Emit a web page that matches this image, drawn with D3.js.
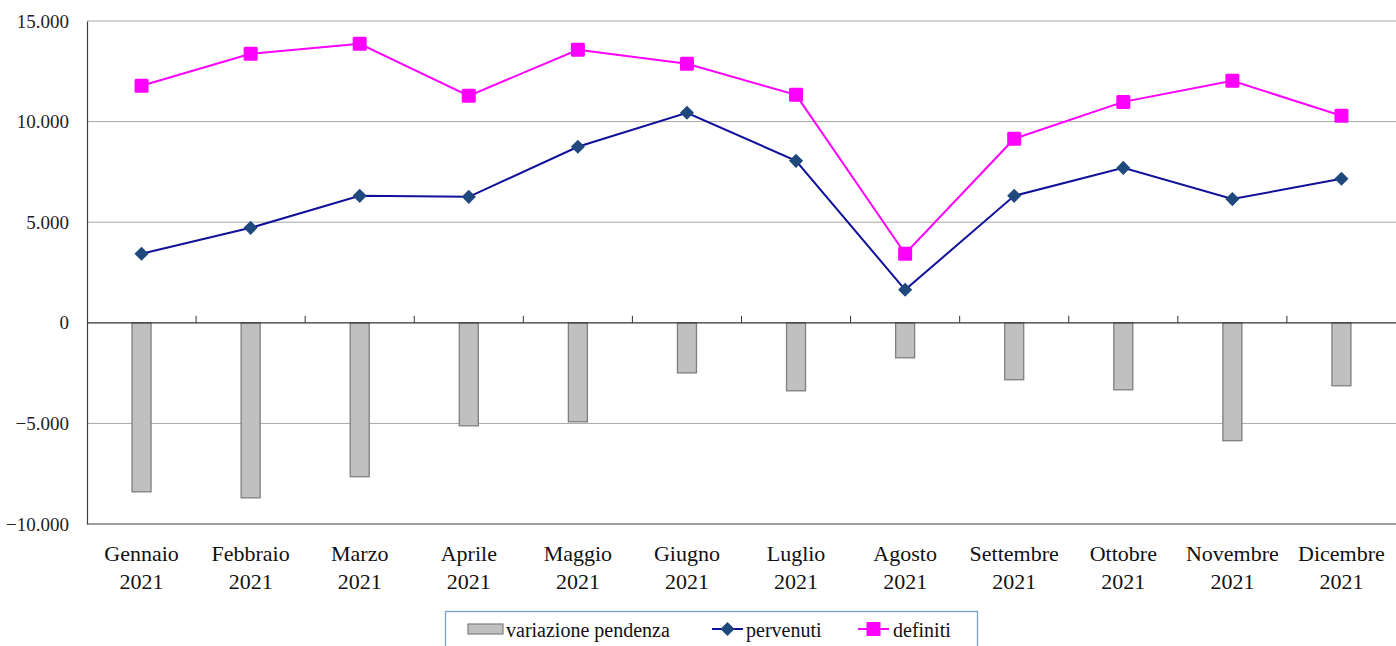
<!DOCTYPE html>
<html><head><meta charset="utf-8">
<script src="https://cdn.jsdelivr.net/npm/d3@7"></script>
<style>html,body{margin:0;padding:0;background:#fff;}svg{display:block;}
svg text{font-family:"Liberation Serif","DejaVu Serif","Noto Serif","Times New Roman",Tinos,serif !important;}</style>
</head><body>
<svg id="c" width="1396" height="646"></svg>
<script>
const months = ["Gennaio","Febbraio","Marzo","Aprile","Maggio","Giugno","Luglio","Agosto","Settembre","Ottobre","Novembre","Dicembre"];
const yearLabel = "2021";
const variazione = [-8400,-8700,-7650,-5120,-4920,-2490,-3380,-1740,-2830,-3330,-5860,-3130];
const pervenuti = [3430,4720,6310,6260,8750,10440,8050,1640,6310,7700,6150,7160];
const definiti = [11780,13370,13870,11280,13570,12870,11330,3430,9150,10980,12030,10290];
const yTicks = [-10000,-5000,0,5000,10000,15000];
const seriesNames = ["variazione pendenza","pervenuti","definiti"];

const svg = d3.select("#c");
const L = 87, R = 1396, T = 21, B = 524;
const x = d3.scaleBand().domain(months).range([L, R]).padding(0);
const y = d3.scaleLinear().domain([-10000, 15000]).range([B, T]);
const fmt = v => d3.format(",")(v).replace(/,/g, ".");

// gridlines
svg.append("g").selectAll("line").data(yTicks.filter(v => v !== 0 && v !== -10000)).join("line")
  .attr("x1", L).attr("x2", R).attr("y1", d => y(d)).attr("y2", d => y(d))
  .attr("stroke", "#a6a6a6").attr("stroke-width", 1);

// y axis
const yAxis = svg.append("g").attr("transform", `translate(${L},0)`)
  .call(d3.axisLeft(y).tickValues(yTicks).tickFormat(fmt).tickSize(0).tickPadding(18));
yAxis.select(".domain").attr("stroke", "#404040").attr("stroke-width", 1.2);
yAxis.selectAll("text").attr("font-size", 19).attr("fill", "#222");

// bottom border
svg.append("line").attr("x1", L).attr("x2", R).attr("y1", y(-10000)).attr("y2", y(-10000))
  .attr("stroke", "#404040").attr("stroke-width", 1.2);

// bars
const bw = 19;
svg.append("g").selectAll("rect").data(variazione).join("rect")
  .attr("x", (d, i) => x(months[i]) + x.bandwidth() / 2 - bw / 2)
  .attr("y", d => y(Math.max(0, d)))
  .attr("width", bw)
  .attr("height", d => Math.abs(y(d) - y(0)))
  .attr("fill", "#c0c0c0").attr("stroke", "#7f7f7f").attr("stroke-width", 1.3);

// zero axis with tick marks
svg.append("line").attr("x1", L).attr("x2", R).attr("y1", y(0)).attr("y2", y(0))
  .attr("stroke", "#333").attr("stroke-width", 1.2);
svg.append("g").selectAll("line").data(months.slice(1)).join("line")
  .attr("x1", d => x(d)).attr("x2", d => x(d)).attr("y1", y(0) - 7).attr("y2", y(0))
  .attr("stroke", "#333").attr("stroke-width", 1);

// category labels
const cat = svg.append("g");
months.forEach(m => {
  const t = cat.append("text").attr("x", x(m) + x.bandwidth() / 2).attr("y", 561)
    .attr("text-anchor", "middle").attr("font-size", 22).attr("fill", "#111");
  t.append("tspan").attr("x", x(m) + x.bandwidth() / 2).attr("dy", 0).text(m);
  t.append("tspan").attr("x", x(m) + x.bandwidth() / 2).attr("dy", 28).text(yearLabel);
});

const cx = i => x(months[i]) + x.bandwidth() / 2;
svg.append("path").datum(pervenuti)
  .attr("d", d3.line().x((d, i) => cx(i)).y(d => y(d)))
  .attr("fill", "none").attr("stroke", "#10109a").attr("stroke-width", 2);
svg.append("path").datum(definiti)
  .attr("d", d3.line().x((d, i) => cx(i)).y(d => y(d)))
  .attr("fill", "none").attr("stroke", "#ff00ff").attr("stroke-width", 2);

svg.append("g").selectAll("path").data(pervenuti).join("path")
  .attr("d", d3.symbol().type(d3.symbolSquare).size(100))
  .attr("transform", (d, i) => `translate(${cx(i)},${y(d)}) rotate(45)`)
  .attr("fill", "#1f497d");
svg.append("g").selectAll("rect").data(definiti).join("rect")
  .attr("x", (d, i) => cx(i) - 7).attr("y", d => y(d) - 7)
  .attr("width", 14).attr("height", 14).attr("rx", 1.5)
  .attr("fill", "#ff00ff");

// legend
const lg = svg.append("g");
lg.append("rect").attr("x", 445.5).attr("y", 611.5).attr("width", 532).attr("height", 45)
  .attr("fill", "#fff").attr("stroke", "#7ba0cf").attr("stroke-width", 1.3);
lg.append("rect").attr("x", 468).attr("y", 624).attr("width", 35).attr("height", 10)
  .attr("fill", "#c0c0c0").attr("stroke", "#7f7f7f").attr("stroke-width", 1.2);
lg.append("text").attr("x", 506).attr("y", 637).text(seriesNames[0]);
lg.append("line").attr("x1", 712).attr("x2", 743).attr("y1", 629).attr("y2", 629).attr("stroke", "#10109a").attr("stroke-width", 2);
lg.append("path").attr("d", d3.symbol().type(d3.symbolSquare).size(100)).attr("transform", "translate(727.5,629) rotate(45)").attr("fill", "#1f497d");
lg.append("text").attr("x", 746).attr("y", 637).text(seriesNames[1]);
lg.append("line").attr("x1", 858).attr("x2", 889).attr("y1", 629).attr("y2", 629).attr("stroke", "#ff00ff").attr("stroke-width", 2);
lg.append("rect").attr("x", 866.5).attr("y", 622).attr("width", 14).attr("height", 14).attr("fill", "#ff00ff");
lg.append("text").attr("x", 893).attr("y", 637).text(seriesNames[2]);
lg.selectAll("text").attr("font-size", 20).attr("fill", "#111");
</script>
</body></html>
